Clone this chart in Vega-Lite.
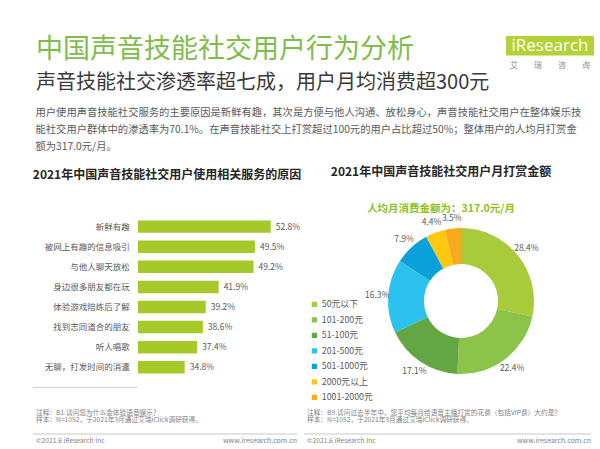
{
  "$schema": "https://vega.github.io/schema/vega-lite/v6.json",
  "background": "white",
  "padding": {"left": 32, "top": 36, "right": 7, "bottom": 6},
  "config": {
    "font": "Noto Sans CJK SC",
    "view": {"stroke": null},
    "title": {"font": "Noto Sans CJK SC", "subtitleFont": "Noto Sans CJK SC"},
    "axis": {"labelFont": "Noto Sans CJK SC"},
    "legend": {"labelFont": "Noto Sans CJK SC"},
    "text": {"font": "Noto Sans CJK SC"}
  },
  "datasets": {
    "reasons": [
      {"reason": "新鲜有趣", "share": 0.528},
      {"reason": "被网上有趣的信息吸引", "share": 0.495},
      {"reason": "与他人聊天放松", "share": 0.492},
      {"reason": "身边很多朋友都在玩", "share": 0.419},
      {"reason": "体验游戏陪练后了解", "share": 0.392},
      {"reason": "找到志同道合的朋友", "share": 0.386},
      {"reason": "听人唱歌", "share": 0.374},
      {"reason": "无聊，打发时间的消遣", "share": 0.348}
    ],
    "spend": [
      {"range": "50元以下", "share": 0.284},
      {"range": "101-200元", "share": 0.224},
      {"range": "51-100元", "share": 0.171},
      {"range": "201-500元", "share": 0.163},
      {"range": "501-1000元", "share": 0.079},
      {"range": "2000元以上", "share": 0.044},
      {"range": "1001-2000元", "share": 0.035}
    ],
    "footLeft": [
      {"slot": "注释", "text": "注释：B1.请问您为什么会体验语音娱乐？"},
      {"slot": "样本", "text": "样本：N=1052，于2021年3月通过艾瑞iClick调研获得。"},
      {"slot": "版权", "text": "©2021.6 iResearch Inc"}
    ],
    "footRight": [
      {"slot": "注释", "text": "注释：B9.请问过去半年中，您平均每月给语音主播打赏的花费（包括VIP费）大约是？"},
      {"slot": "样本", "text": "样本：N=1052，于2021年3月通过艾瑞iClick调研获得。"},
      {"slot": "版权", "text": "©2021.6 iResearch Inc"}
    ],
    "site": [
      {"slot": "版权", "text": "www.iresearch.com.cn"}
    ],
    "logo": [
      {"part": "标志", "text": "iResearch"},
      {"part": "中文", "text": "艾　　瑞　　咨　　询"}
    ]
  },
  "spacing": 14,
  "vconcat": [
    {
      "bounds": "flush",
      "spacing": 13,
      "hconcat": [
        {
          "width": 460,
          "height": 1,
          "title": {
            "text": "中国声音技能社交用户行为分析",
            "subtitle": "声音技能社交渗透率超七成，用户月均消费超300元",
            "orient": "bottom",
            "anchor": "start",
            "dx": 3,
            "offset": 0,
            "fontSize": 27,
            "fontWeight": "normal",
            "color": "#80bc4a",
            "subtitleFontSize": 20,
            "subtitleColor": "#3a3a3a",
            "subtitlePadding": 9
          },
          "data": {"values": []},
          "mark": {"type": "text"},
          "encoding": {}
        },
        {
          "width": 88,
          "height": 40,
          "data": {"name": "logo"},
          "encoding": {
            "y": {
              "field": "part",
              "type": "nominal",
              "scale": {"domain": ["标志", "中文"], "paddingInner": 0.05, "paddingOuter": 0},
              "axis": null
            }
          },
          "layer": [
            {
              "transform": [{"filter": "datum.part === '标志'"}],
              "mark": {"type": "bar", "color": "#b3d235"}
            },
            {
              "transform": [{"filter": "datum.part === '标志'"}],
              "mark": {"type": "text", "font": "Open Sans", "fontSize": 17, "color": "white", "baseline": "middle"},
              "encoding": {"text": {"field": "text"}}
            },
            {
              "transform": [{"filter": "datum.part === '中文'"}],
              "mark": {"type": "text", "fontSize": 8, "color": "#8c8c8c", "baseline": "middle"},
              "encoding": {"text": {"field": "text"}}
            }
          ]
        }
      ]
    },
    {
      "spacing": 7,
      "vconcat": [
        {
          "title": {
            "text": [
              "用户使用声音技能社交服务的主要原因是新鲜有趣，其次是方便与他人沟通、放松身心，声音技能社交用户在整体娱乐技",
              "能社交用户群体中的渗透率为70.1%。在声音技能社交上打赏超过100元的用户占比超过50%；整体用户的人均月打赏金",
              "额为317.0元/月。"
            ],
            "anchor": "start",
            "frame": "bounds",
            "dx": 3,
            "fontSize": 10.3,
            "fontWeight": "normal",
            "color": "#595959",
            "lineHeight": 17,
            "offset": 14
          },
          "bounds": "flush",
          "spacing": 50,
          "resolve": {"legend": {"color": "independent"}, "scale": {"color": "independent", "theta": "independent"}},
          "hconcat": [
            {
              "width": 253,
              "height": 182,
              "title": {
                "text": "2021年中国声音技能社交用户使用相关服务的原因",
                "fontSize": 12,
                "fontWeight": "bold",
                "color": "#262626",
                "anchor": "middle",
                "dx": 7.5,
                "offset": 34
              },
              "data": {"name": "reasons"},
              "encoding": {
                "y": {
                  "field": "reason",
                  "type": "nominal",
                  "sort": null,
                  "scale": {"paddingInner": 0.38, "paddingOuter": 0.22},
                  "axis": null
                }
              },
              "layer": [
                {
                  "mark": {"type": "bar", "color": "#a5c929"},
                  "encoding": {
                    "x": {
                      "field": "share",
                      "type": "quantitative",
                      "stack": null,
                      "scale": {"domain": [0.0305, 0.56], "zero": false, "nice": false},
                      "axis": null
                    },
                    "x2": {"datum": 0.25}
                  }
                },
                {
                  "mark": {"type": "text", "align": "left", "baseline": "middle", "dx": 5, "fontSize": 8.5, "color": "#595959"},
                  "encoding": {
                    "x": {"field": "share", "type": "quantitative"},
                    "text": {"field": "share", "format": ".1%"}
                  }
                },
                {
                  "mark": {"type": "text", "align": "right", "baseline": "middle", "dx": -8, "fontSize": 8.5, "color": "#595959"},
                  "encoding": {
                    "x": {"datum": 0.25, "type": "quantitative"},
                    "text": {"field": "reason"}
                  }
                },
                {
                  "data": {"values": [{"base": 0.25}]},
                  "mark": {"type": "rule", "color": "#cfcfcf", "strokeWidth": 1},
                  "encoding": {"x": {"field": "base", "type": "quantitative"}}
                }
              ]
            },
            {
              "width": 250,
              "height": 170,
              "title": {
                "text": "2021年中国声音技能社交用户月打赏金额",
                "subtitle": "人均月消费金额为：317.0元/月",
                "fontSize": 12,
                "fontWeight": "bold",
                "color": "#262626",
                "subtitleFontSize": 10.5,
                "subtitleFontWeight": "bold",
                "subtitleColor": "#8dc21f",
                "subtitlePadding": 25,
                "anchor": "middle",
                "dx": -20,
                "offset": -2
              },
              "data": {"name": "spend"},
              "encoding": {
                "theta": {"field": "share", "type": "quantitative", "stack": true},
                "order": {"field": "share", "sort": "descending"}
              },
              "layer": [
                {
                  "mark": {"type": "arc", "innerRadius": 37, "outerRadius": 73},
                  "encoding": {
                    "color": {
                      "field": "range",
                      "type": "nominal",
                      "scale": {
                        "domain": ["50元以下", "101-200元", "51-100元", "201-500元", "501-1000元", "2000元以上", "1001-2000元"],
                        "range": ["#a7cb3b", "#8cc449", "#62a744", "#2bc3ee", "#0aa1da", "#fdc80f", "#f8aa1c"]
                      },
                      "legend": {
                        "orient": "none",
                        "legendX": -26,
                        "legendY": 84,
                        "title": null,
                        "padding": 0,
                        "symbolType": "square",
                        "symbolSize": 28,
                        "symbolStrokeWidth": 0,
                        "labelFontSize": 8.8,
                        "labelColor": "#595959",
                        "labelOffset": 3,
                        "rowPadding": 5.5
                      }
                    }
                  }
                },
                {
                  "mark": {"type": "text", "radius": 84, "fontSize": 8.5, "color": "#595959"},
                  "encoding": {"text": {"field": "share", "format": ".1%"}}
                }
              ]
            }
          ]
        },
        {
          "bounds": "flush",
          "spacing": 7,
          "hconcat": [
            {
              "width": 264,
              "height": 28,
              "encoding": {
                "y": {
                  "field": "slot",
                  "type": "ordinal",
                  "scale": {"type": "point", "domain": ["注释", "样本", "空", "线", "版权"], "padding": 0},
                  "axis": null
                }
              },
              "layer": [
                {
                  "data": {"name": "footLeft"},
                  "mark": {"type": "text", "align": "left", "baseline": "middle", "dx": 3, "fontSize": 6.7, "color": "#7f7f7f"},
                  "encoding": {"x": {"value": 0}, "text": {"field": "text"}}
                },
                {
                  "data": {"name": "site"},
                  "mark": {"type": "text", "align": "right", "baseline": "middle", "fontSize": 7, "color": "#7f7f7f"},
                  "encoding": {"x": {"value": "width"}, "text": {"field": "text"}}
                },
                {
                  "data": {"values": [{"slot": "线"}]},
                  "mark": {"type": "rule", "color": "#c8c8c8", "strokeWidth": 1},
                  "encoding": {"y": {"field": "slot", "type": "ordinal"}}
                }
              ]
            },
            {
              "width": 287,
              "height": 28,
              "encoding": {
                "y": {
                  "field": "slot",
                  "type": "ordinal",
                  "scale": {"type": "point", "domain": ["注释", "样本", "空", "线", "版权"], "padding": 0},
                  "axis": null
                }
              },
              "layer": [
                {
                  "data": {"name": "footRight"},
                  "mark": {"type": "text", "align": "left", "baseline": "middle", "dx": 3, "fontSize": 6.7, "color": "#7f7f7f"},
                  "encoding": {"x": {"value": 0}, "text": {"field": "text"}}
                },
                {
                  "data": {"name": "site"},
                  "mark": {"type": "text", "align": "right", "baseline": "middle", "fontSize": 7, "color": "#7f7f7f"},
                  "encoding": {"x": {"value": "width"}, "text": {"field": "text"}}
                },
                {
                  "data": {"values": [{"slot": "线"}]},
                  "mark": {"type": "rule", "color": "#c8c8c8", "strokeWidth": 1},
                  "encoding": {"y": {"field": "slot", "type": "ordinal"}}
                }
              ]
            }
          ]
        }
      ]
    }
  ]
}
